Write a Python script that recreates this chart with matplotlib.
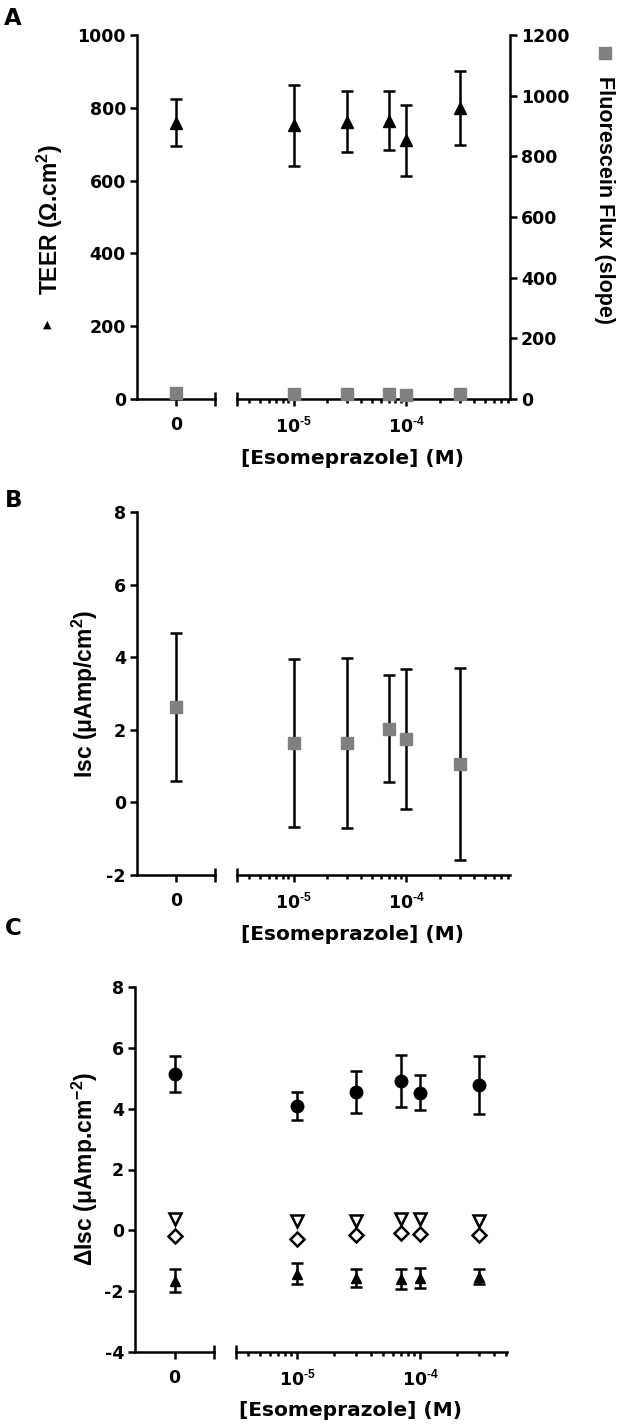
import math
import matplotlib
matplotlib.use("Agg")
import matplotlib.pyplot as plt
from matplotlib.lines import Line2D
from matplotlib.ticker import FixedLocator, LogLocator, NullFormatter, FuncFormatter

plt.rcParams['font.family'] = ['DejaVu Sans']
plt.rcParams['font.weight'] = 'bold'
plt.rcParams['mathtext.fontset'] = 'custom'
plt.rcParams['mathtext.rm'] = 'Liberation Sans:bold'
plt.rcParams['mathtext.it'] = 'Liberation Sans:bold'
plt.rcParams['mathtext.bf'] = 'Liberation Sans:bold'
plt.rcParams['axes.unicode_minus'] = False

# esomeprazole concentration (M); first entry is the zero dose on the split-off axis
conc = [0, 1e-5, 3e-5, 7e-5, 1e-4, 3e-4]

# panel A
teer = [759, 752, 762, 765, 711, 800]
teer_err = [65, 112, 83, 82, 97, 101]
flux = [20, 17, 15, 18, 12, 17]

# panel B
isc = [2.62, 1.64, 1.64, 2.03, 1.75, 1.06]
isc_err = [2.04, 2.31, 2.35, 1.47, 1.92, 2.65]

# panel C
d_circle = [5.15, 4.10, 4.55, 4.91, 4.53, 4.77]
d_circle_err = [0.59, 0.46, 0.68, 0.87, 0.59, 0.95]
d_vtri = [0.36, 0.31, 0.31, 0.36, 0.36, 0.31]
d_diam = [-0.18, -0.27, -0.16, -0.08, -0.13, -0.16]
d_tri = [-1.65, -1.42, -1.57, -1.60, -1.58, -1.52]
d_tri_err = [0.38, 0.35, 0.30, 0.32, 0.33, 0.25]

GREY = '#808080'
LW = 1.8
TICK_FS = 12.5
XLABEL_FS = 14.5
YLABEL_FS = 16.5
VFONT = ['Liberation Sans', 'DejaVu Sans']   # rotated labels

W, H = 618, 1426
fig = plt.figure(figsize=(W / 100, H / 100), dpi=100)


def pow_label(v, pos):
    # 10^-n with a plain hyphen, like the original
    return r'$\mathdefault{10^{\text{-%d}}}$' % round(-math.log10(v))


def make_panel(top, bottom, left, lend, rstart, right, log_lo, log_hi, ylim, yticks):
    y0 = 1 - bottom / H
    h = (bottom - top) / H
    axl = fig.add_axes([left / W, y0, (lend - left) / W, h])
    axr = fig.add_axes([rstart / W, y0, (right - rstart) / W, h])
    mark = 7 / (bottom - top)

    for ax in (axl, axr):
        ax.set_ylim(*ylim)
        ax.spines['top'].set_visible(False)
        ax.spines['right'].set_visible(False)
        for s in ax.spines.values():
            s.set_linewidth(LW)
        ax.tick_params(which='major', length=5, width=LW, labelsize=TICK_FS, pad=7)
        ax.tick_params(which='minor', length=3, width=LW)
        ax.patch.set_visible(False)

    axl.set_yticks(yticks)
    axl.tick_params(axis='y', pad=3)
    axl.set_xlim(-1, 1)
    axl.set_xticks([0])
    axl.set_xticklabels(['0'])
    axl.plot([1, 1], [-mark, mark], transform=axl.get_xaxis_transform(),
             color='k', lw=LW, clip_on=False, solid_capstyle='butt')

    axr.spines['left'].set_visible(False)
    axr.yaxis.set_visible(False)
    axr.set_xscale('log')
    axr.set_xlim(10 ** log_lo, 10 ** log_hi)
    axr.xaxis.set_major_locator(FixedLocator([1e-5, 1e-4]))
    axr.xaxis.set_major_formatter(FuncFormatter(pow_label))
    axr.xaxis.set_minor_locator(LogLocator(base=10, subs=range(2, 10)))
    axr.xaxis.set_minor_formatter(NullFormatter())
    axr.plot([10 ** log_lo] * 2, [-mark, mark], transform=axr.get_xaxis_transform(),
             color='k', lw=LW, clip_on=False, solid_capstyle='butt')

    fig.text(((lend + right) / 2 - 10) / W, 1 - (bottom + 59) / H, '[Esomeprazole] (M)',
             ha='center', va='center', fontsize=XLABEL_FS)
    return axl, axr


def split_plot(axl, axr, y, err=None, **kw):
    """zero dose on the left piece, the rest on the log piece"""
    for ax, xs, ys, es in ((axl, conc[:1], y[:1], None if err is None else err[:1]),
                           (axr, conc[1:], y[1:], None if err is None else err[1:])):
        if es is not None:
            ax.errorbar(xs, ys, yerr=es, fmt='none', ecolor='k', elinewidth=LW,
                        capsize=4.3, capthick=LW, zorder=3, clip_on=False)
        ax.plot(xs, ys, linestyle='none', zorder=4, clip_on=False, **kw)


# ---------- A ----------
axA_l, axA_r = make_panel(35, 399, 137, 215, 237, 510, -5.503, -3.077, (0, 1000),
                          range(0, 1001, 200))
split_plot(axA_l, axA_r, teer, teer_err, marker='^', ms=8.5, color='k')

axA_l2 = axA_l.twinx()
axA_r2 = axA_r.twinx()
for ax in (axA_l2, axA_r2):
    ax.set_ylim(0, 1200)
    for s in ax.spines.values():
        s.set_visible(False)
axA_l2.set_yticks([])
axA_r2.spines['right'].set_visible(True)
axA_r2.spines['right'].set_linewidth(LW)
axA_r2.set_yticks(range(0, 1201, 200))
axA_r2.tick_params(axis='y', length=5, width=LW, labelsize=TICK_FS, pad=3)
split_plot(axA_l2, axA_r2, flux, marker='s', ms=8.5, color=GREY, mec=GREY)

fig.text(50 / W, 1 - 219 / H, 'TEER (Ω.cm$^2$)', rotation=90, ha='center', va='center',
         fontsize=YLABEL_FS, family=VFONT)
fig.text(47 / W, 1 - 325 / H, '▲', ha='center', va='center', fontsize=8)
fig.text(605 / W, 1 - 200 / H, 'Fluorescein Flux (slope)', rotation=270, ha='center',
         va='center', fontsize=15.5, family=VFONT)
fig.add_artist(Line2D([605 / W], [1 - 53 / H], marker='s', ms=8.5, color=GREY,
                      transform=fig.transFigure))

# ---------- B ----------
axB_l, axB_r = make_panel(512, 875, 137, 215, 237, 510, -5.503, -3.077, (-2, 8),
                          range(-2, 9, 2))
split_plot(axB_l, axB_r, isc, isc_err, marker='s', ms=8.5, color=GREY, mec=GREY)
fig.text(85 / W, 1 - 694 / H, 'Isc (μAmp/cm$^2$)', rotation=90, ha='center', va='center',
         fontsize=YLABEL_FS, family=VFONT)

# ---------- C ----------
axC_l, axC_r = make_panel(987, 1352, 135, 214, 236, 507, -5.495, -3.294, (-4, 8),
                          range(-4, 9, 2))
split_plot(axC_l, axC_r, d_circle, d_circle_err, marker='o', ms=9, color='k')
split_plot(axC_l, axC_r, d_vtri, marker='v', ms=9, mfc='white', mec='k', mew=1.8)
split_plot(axC_l, axC_r, d_diam, marker='D', ms=7, mfc='white', mec='k', mew=1.8)
split_plot(axC_l, axC_r, d_tri, d_tri_err, marker='^', ms=6.5, color='k')
fig.text(85 / W, 1 - 1169 / H, 'ΔIsc (μAmp.cm$^{-2}$)', rotation=90, ha='center',
         va='center', fontsize=YLABEL_FS, family=VFONT)

# panel letters
for letter, x, y in (('A', 4, 7), ('B', 5, 489), ('C', 5, 917)):
    fig.text(x / W, 1 - y / H, letter, ha='left', va='top', fontsize=16.5)

fig.savefig('out.png', dpi=100)
